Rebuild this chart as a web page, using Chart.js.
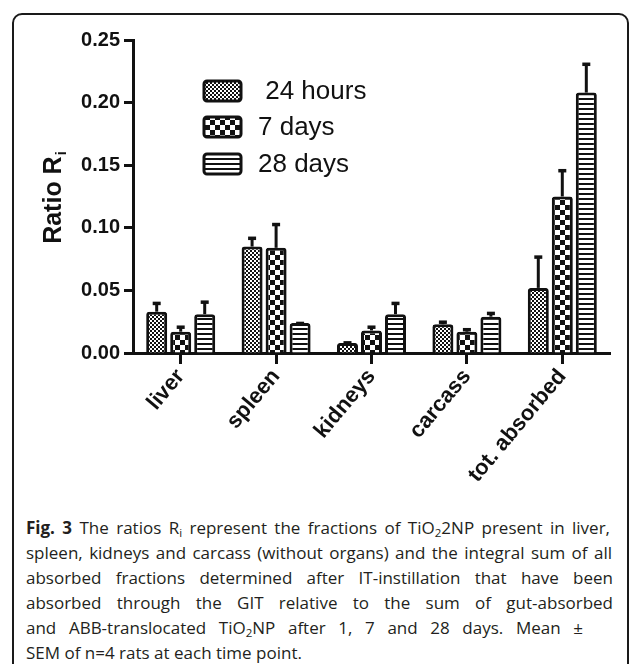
<!DOCTYPE html>
<html><head><meta charset="utf-8">
<script src="https://cdn.jsdelivr.net/npm/chart.js@4"></script>
<style>
html,body{margin:0;padding:0;background:#fff;width:633px;height:664px;overflow:hidden;}
#frame{position:absolute;left:12px;top:13px;width:617px;height:720px;border:2px solid #1a1a1a;border-radius:10px;box-sizing:border-box;}
#wrap{position:absolute;left:0;top:0;width:633px;height:505px;}
#cap{position:absolute;left:26px;top:515px;font-family:'Open Sans',sans-serif;font-size:17px;line-height:25px;color:#231f20;}
#cap div{text-align:justify;text-align-last:justify;white-space:nowrap;}
#cap div.last{text-align:left;text-align-last:left;}
sub{font-size:0.68em;vertical-align:-0.3em;line-height:0;}
</style></head>
<body>
<div id="frame"></div>
<div id="wrap"><canvas id="c" width="633" height="505"></canvas></div>
<div id="cap">
<div style="width:584px"><b>Fig. 3</b> The ratios R<sub>i</sub> represent the fractions of TiO<sub>2</sub>2NP present in liver,</div>
<div style="width:586px">spleen, kidneys and carcass (without organs) and the integral sum of all</div>
<div style="width:587px">absorbed fractions determined after IT-instillation that have been</div>
<div style="width:587px">absorbed through the GIT relative to the sum of gut-absorbed</div>
<div style="width:557px">and ABB-translocated TiO<sub>2</sub>NP after 1, 7 and 28 days. Mean ±</div>
<div class="last">SEM of n=4 rats at each time point.</div>
</div>
<script>
const categories = ['liver', 'spleen', 'kidneys', 'carcass', 'tot. absorbed'];
const seriesNames = [' 24 hours', '7 days', '28 days'];
const mean24h = [0.033, 0.085, 0.008, 0.023, 0.052];
const mean7d  = [0.017, 0.084, 0.018, 0.017, 0.125];
const mean28d = [0.031, 0.024, 0.031, 0.029, 0.208];
const sem24h  = [0.008, 0.008, 0.0015, 0.003, 0.026];
const sem7d   = [0.005, 0.020, 0.004, 0.003, 0.022];
const sem28d  = [0.011, 0.001, 0.010, 0.004, 0.024];
const yMin = 0, yMax = 0.25, yStep = 0.05;

const FONT = "'Liberation Sans', Arial, sans-serif";

function makePattern(kind) {
  const c = document.createElement('canvas');
  const x = c.getContext('2d');
  if (kind === 'fine') {
    c.width = 4; c.height = 4;
    x.fillStyle = '#fff'; x.fillRect(0,0,4,4);
    x.fillStyle = '#111'; x.fillRect(0,0,2,2); x.fillRect(2,2,2,2);
  } else if (kind === 'coarse') {
    c.width = 10; c.height = 10;
    x.fillStyle = '#fff'; x.fillRect(0,0,10,10);
    x.fillStyle = '#111'; x.fillRect(0,0,5,5); x.fillRect(5,5,5,5);
  } else {
    c.width = 5; c.height = 5;
    x.fillStyle = '#fff'; x.fillRect(0,0,5,5);
    x.fillStyle = '#111'; x.fillRect(0,3,5,2);
  }
  return document.getElementById('c').getContext('2d').createPattern(c, 'repeat');
}
const patterns = [makePattern('fine'), makePattern('coarse'), makePattern('stripes')];
const means = [mean24h, mean7d, mean28d];
const sems = [sem24h, sem7d, sem28d];

const errorBars = {
  id: 'errorBars',
  afterDatasetsDraw(chart) {
    const ctx = chart.ctx, ys = chart.scales.y;
    ctx.save();
    ctx.strokeStyle = '#111'; ctx.fillStyle = '#111';
    chart.data.datasets.forEach((ds, di) => {
      const meta = chart.getDatasetMeta(di);
      meta.data.forEach((bar, i) => {
        const top = ys.getPixelForValue(ds.data[i] + sems[di][i]);
        ctx.lineWidth = 3;
        ctx.beginPath(); ctx.moveTo(bar.x, bar.y); ctx.lineTo(bar.x, top + 1); ctx.stroke();
        ctx.fillRect(bar.x - 4, top, 8, 3.5);
      });
    });
    ctx.restore();
  }
};

const extras = {
  id: 'extras',
  afterDraw(chart) {
    const ctx = chart.ctx;
    ctx.save();
    const rows = [91, 127, 164];
    ctx.font = '26px ' + FONT;
    ctx.textBaseline = 'middle';
    seriesNames.forEach((name, i) => {
      const y = rows[i];
      ctx.beginPath();
      ctx.roundRect(204, y - 10, 37, 20, 3);
      ctx.fillStyle = patterns[i]; ctx.fill();
      ctx.lineWidth = 3; ctx.strokeStyle = '#111'; ctx.stroke();
      ctx.fillStyle = '#111';
      ctx.textAlign = 'left';
      ctx.fillText(name, 258, y + 1);
    });
    ctx.translate(52, 198);
    ctx.rotate(-Math.PI / 2);
    const main = 'Ratio R';
    ctx.font = 'bold 25px ' + FONT;
    const w1 = ctx.measureText(main).width;
    ctx.font = 'bold 15px ' + FONT;
    const w2 = ctx.measureText('i').width;
    const start = -(w1 + w2) / 2;
    ctx.textAlign = 'left'; ctx.textBaseline = 'alphabetic';
    ctx.fillStyle = '#111';
    ctx.font = 'bold 25px ' + FONT;
    ctx.fillText(main, start, 9);
    ctx.font = 'bold 15px ' + FONT;
    ctx.fillText('i', start + w1 + 1, 14);
    ctx.restore();
  }
};

new Chart(document.getElementById('c'), {
  type: 'bar',
  data: {
    labels: categories,
    datasets: seriesNames.map((n, i) => ({
      label: n,
      data: means[i],
      backgroundColor: patterns[i],
      borderColor: '#111',
      borderWidth: 3,
      borderRadius: 3,
      borderSkipped: 'bottom',
      categoryPercentage: 0.755,
      barPercentage: 0.875
    }))
  },
  options: {
    responsive: false,
    animation: false,
    layout: { padding: { left: 0, top: 40, right: 23, bottom: 0 } },
    plugins: { legend: { display: false }, tooltip: { enabled: false } },
    scales: {
      x: {
        afterFit(s) { s.height = 505 - 353; },
        grid: { display: true, drawOnChartArea: false, offset: false, tickLength: 11, tickWidth: 3, tickColor: '#111' },
        border: { display: true, width: 3, color: '#111' },
        ticks: { color: '#111', font: { family: FONT, size: 22, weight: 'bold' }, maxRotation: 50, minRotation: 50, padding: 0, autoSkip: false }
      },
      y: {
        min: yMin, max: yMax,
        afterFit(s) { s.width = 133; },
        grid: { display: true, drawOnChartArea: false, tickLength: 9, tickWidth: 3, tickColor: '#111' },
        border: { display: true, width: 3, color: '#111' },
        ticks: { stepSize: yStep, color: '#111', font: { family: FONT, size: 20, weight: 'bold' }, padding: 4,
                 callback: v => Number(v).toFixed(2) }
      }
    }
  },
  plugins: [errorBars, extras]
});
</script>
</body></html>
